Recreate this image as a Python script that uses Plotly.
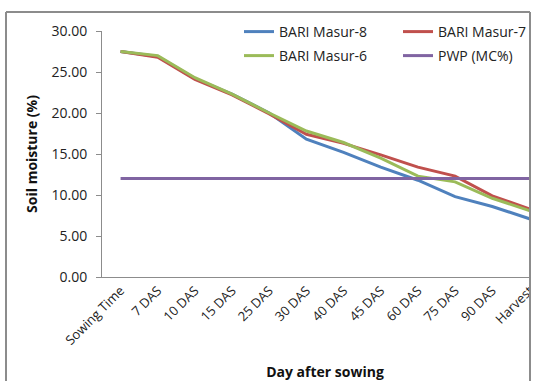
import plotly.graph_objects as go

# Sampling stages (x categories)
stages = ["Sowing Time", "7 DAS", "10 DAS", "15 DAS", "25 DAS", "30 DAS",
          "40 DAS", "45 DAS", "60 DAS", "75 DAS", "90 DAS", "Harvest"]

# Soil moisture (%) per variety
masur8 = [27.5, 26.9, 24.2, 22.3, 20.0, 16.8, 15.2, 13.4, 11.8, 9.8, 8.6, 7.1]
masur7 = [27.5, 26.8, 24.1, 22.2, 19.9, 17.4, 16.3, 14.9, 13.4, 12.3, 9.9, 8.3]
masur6 = [27.5, 27.0, 24.3, 22.3, 20.0, 17.8, 16.4, 14.5, 12.3, 11.6, 9.6, 8.1]
# Permanent wilting point
pwp = [12.0] * len(stages)

FONT = "Open Sans"
W, H = 560, 381
L, R, T, B = 102, 12, 31, 104
pw = W - L - R
ph = H - T - B


def px_x(px):
    return (px - L) / pw


def px_y(py):
    return (H - B - py) / ph


# name, values, colour, legend id, legend position (px)
series = [
    ("BARI Masur-8", masur8, "#4F81BD", "legend", (239, 32)),
    ("BARI Masur-7", masur7, "#C0504D", "legend2", (398, 32)),
    ("BARI Masur-6", masur6, "#9BBB59", "legend3", (239, 56)),
    ("PWP (MC%)", pwp, "#8064A2", "legend4", (398, 56)),
]

fig = go.Figure()
legends = {}
for name, vals, color, leg, (lx, ly) in series:
    fig.add_trace(go.Scatter(
        x=list(range(len(stages))), y=vals, name=name, mode="lines",
        line=dict(color=color, width=3), legend=leg,
    ))
    legends[leg] = dict(
        x=px_x(lx), y=px_y(ly), xref="paper", yref="paper",
        xanchor="left", yanchor="middle", orientation="h",
        bgcolor="rgba(0,0,0,0)", borderwidth=0,
        font=dict(family=FONT, size=14, color="#222"),
    )

frame = "#8c8c8c"
fig.update_layout(
    width=W, height=H,
    margin=dict(l=L, r=R, t=T, b=B, pad=0, autoexpand=False),
    paper_bgcolor="white", plot_bgcolor="white",
    font=dict(family=FONT, size=13, color="#222"),
    showlegend=True,
    **legends,
    xaxis=dict(
        range=[-0.5, len(stages) - 0.5],
        tickmode="array", tickvals=list(range(len(stages))), ticktext=stages,
        tickangle=-45, showline=True, linecolor=frame, linewidth=1,
        showgrid=False, zeroline=False, ticks="", automargin=False,
        tickfont=dict(family=FONT, size=13, color="#222"),
        title=dict(text="<b>Day after sowing</b>", standoff=22,
                   font=dict(family=FONT, size=14, color="#111")),
        fixedrange=True,
    ),
    yaxis=dict(
        range=[0, 30], tickvals=[0, 5, 10, 15, 20, 25, 30], tickformat=".2f",
        showline=True, linecolor=frame, linewidth=1,
        ticks="outside", ticklen=5, tickcolor=frame,
        ticklabelstandoff=6, automargin=False,
        showgrid=False, zeroline=False,
        tickfont=dict(family=FONT, size=14, color="#222"),
        title=dict(text="<b>Soil moisture (%)</b>", standoff=10,
                   font=dict(family=FONT, size=14, color="#111")),
        fixedrange=True,
    ),
)

# outer chart frame (left, top, right) and blank strip beyond it
fig.add_shape(type="line", xref="paper", yref="paper",
              x0=px_x(6), x1=px_x(6), y0=px_y(395), y1=px_y(12),
              line=dict(color=frame, width=2))
fig.add_shape(type="line", xref="paper", yref="paper",
              x0=px_x(6), x1=px_x(530), y0=px_y(12), y1=px_y(12),
              line=dict(color=frame, width=2))
fig.add_shape(type="rect", xref="paper", yref="paper",
              x0=px_x(531), x1=px_x(W + 5), y0=px_y(H + 10), y1=px_y(-5),
              line=dict(width=0), fillcolor="white")
fig.add_shape(type="line", xref="paper", yref="paper",
              x0=px_x(530), x1=px_x(530), y0=px_y(395), y1=px_y(12),
              line=dict(color=frame, width=2))

fig.write_html(
    "out.html",
    post_script="document.documentElement.style.overflow='hidden';"
                "document.body.style.overflow='hidden';",
)
